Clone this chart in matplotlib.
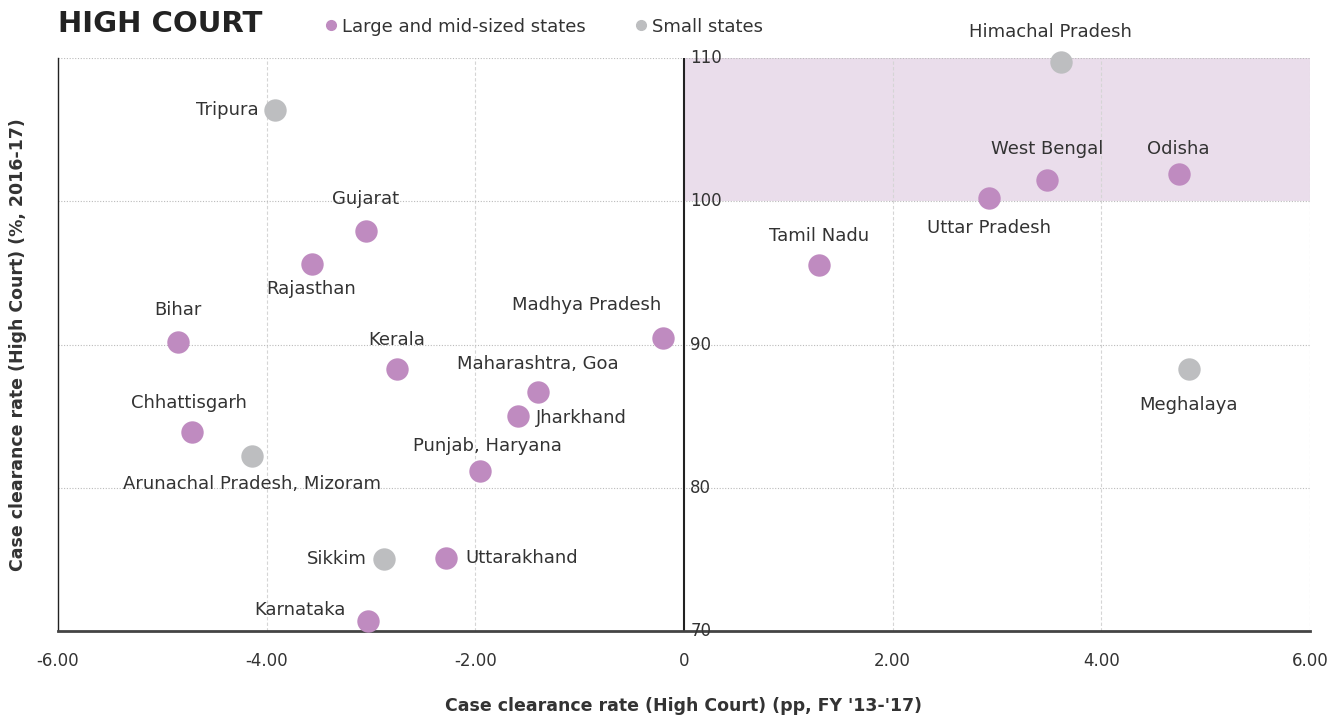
import numpy as np
import matplotlib.pyplot as plt
from matplotlib.lines import Line2D

plt.rcParams['font.family'] = ['DejaVu Sans']

# data
large_names = ["Gujarat", "Rajasthan", "Bihar", "Kerala", "Madhya Pradesh",
               "Maharashtra, Goa", "Jharkhand", "Chhattisgarh", "Punjab, Haryana",
               "Uttarakhand", "Karnataka", "West Bengal", "Odisha",
               "Uttar Pradesh", "Tamil Nadu"]
large_x = [-3.05, -3.57, -4.85, -2.75, -0.20, -1.40, -1.59, -4.72, -1.96,
           -2.28, -3.03, 3.48, 4.74, 2.92, 1.29]
large_y = [97.9, 95.6, 90.2, 88.3, 90.45, 86.7, 85.0, 83.9, 81.2,
           75.1, 70.7, 101.5, 101.9, 100.2, 95.55]

small_names = ["Tripura", "Arunachal Pradesh, Mizoram", "Sikkim",
               "Himachal Pradesh", "Meghalaya"]
small_x = [-3.92, -4.14, -2.88, 3.61, 4.84]
small_y = [106.4, 82.2, 75.0, 109.7, 88.3]

x_ticks = [-6, -4, -2, 0, 2, 4, 6]
x_ticklabels = ["-6.00", "-4.00", "-2.00", "0", "2.00", "4.00", "6.00"]
y_ticks = [70, 80, 90, 100, 110]

# label placement: (dx, dy) in points, horizontal alignment
label_pos = {
    "Tripura": (-12, 0, "right"),
    "Gujarat": (0, 23, "center"),
    "Rajasthan": (0, -18, "center"),
    "Bihar": (0, 23, "center"),
    "Kerala": (0, 21, "center"),
    "Madhya Pradesh": (-55, 24, "center"),
    "Maharashtra, Goa": (0, 20, "center"),
    "Jharkhand": (13, -1.5, "left"),
    "Chhattisgarh": (-2, 21, "center"),
    "Arunachal Pradesh, Mizoram": (0, -20, "center"),
    "Punjab, Haryana": (6, 18, "center"),
    "Sikkim": (-12, 0, "right"),
    "Uttarakhand": (14, 0, "left"),
    "Karnataka": (-16, 8, "right"),
    "Himachal Pradesh": (-7, 22, "center"),
    "West Bengal": (0, 22, "center"),
    "Odisha": (0, 18, "center"),
    "Uttar Pradesh": (0, -21, "center"),
    "Tamil Nadu": (0, 21, "center"),
    "Meghalaya": (0, -26, "center"),
}

purple = "#BF8BC0"
grey = "#BDBEC0"
txt = "#333333"

fig = plt.figure(figsize=(13.4, 7.2), dpi=100)
ax = fig.add_axes([0.0433, 0.1236, 0.9343, 0.7958])

ax.set_xlim(-6, 6)
ax.set_ylim(70, 110)

# shaded quadrant
ax.fill_between([0, 6], 100, 110, color="#EADDEB", zorder=0, lw=0)

# grid
for xv in x_ticks[1:]:
    if xv != 0:
        ax.axvline(xv, color="#D5D5D5", lw=0.8, ls=(0, (3, 2)), zorder=1)
for yv in y_ticks[1:]:
    ax.axhline(yv, color="#BBBBBB", lw=0.8, ls=(0, (1, 1.5)), zorder=1)
ax.axvline(0, color="#222222", lw=1.5, zorder=2)

ax.scatter(large_x, large_y, s=260, color=purple, lw=0, zorder=3,
           label="Large and mid-sized states", clip_on=False)
ax.scatter(small_x, small_y, s=260, color=grey, lw=0, zorder=3,
           label="Small states", clip_on=False)

for names, xs, ys in [(large_names, large_x, large_y), (small_names, small_x, small_y)]:
    for n, xv, yv in zip(names, xs, ys):
        dx, dy, ha = label_pos[n]
        ax.annotate(n, (xv, yv), xytext=(dx, dy), textcoords="offset points",
                    ha=ha, va="center", fontsize=13, color=txt, zorder=4,
                    annotation_clip=False)

# spines
for s in ["top", "right"]:
    ax.spines[s].set_visible(False)
ax.spines["left"].set_color("#222222")
ax.spines["left"].set_linewidth(1.0)
ax.spines["bottom"].set_color("#444444")
ax.spines["bottom"].set_linewidth(2)

ax.set_xticks(x_ticks)
ax.set_xticklabels(x_ticklabels, fontsize=12, color=txt)
ax.tick_params(axis="x", length=0, pad=15)
ax.set_yticks([])

# y tick labels sit on the zero line
for yv in y_ticks:
    ax.text(0.06, yv, str(yv), fontsize=12, color=txt, ha="left", va="center",
            zorder=4)

fig.text(0.5104, 0.0194, "Case clearance rate (High Court) (pp, FY '13-'17)",
         fontsize=12.5, fontweight="bold", color=txt, ha="center", va="center")
ax.set_ylabel("Case clearance rate (High Court) (%, 2016-17)", fontsize=12.5,
              fontweight="bold", color=txt, labelpad=22)

fig.text(0.0433, 0.966, "HIGH COURT", fontsize=21, fontweight="heavy",
         color="#222222", ha="left", va="center")

handles = [Line2D([], [], marker="o", ls="", color=purple, markersize=7,
                  label="Large and mid-sized states"),
           Line2D([], [], marker="o", ls="", color=grey, markersize=7,
                  label="Small states")]
fig.legend(handles=handles, loc="center left", bbox_to_anchor=(0.228, 0.963),
           ncol=2, frameon=False, fontsize=13, handletextpad=0.1,
           columnspacing=2.6, handlelength=1.0, labelcolor=txt)

fig.savefig("out.png", dpi=100)
